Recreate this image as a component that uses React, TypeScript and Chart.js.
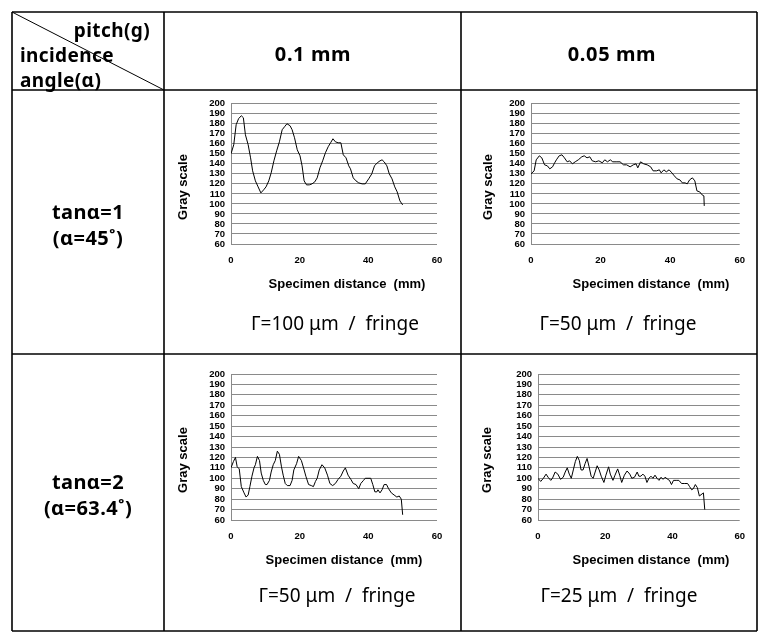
import React, { useEffect, useRef } from "react";
import { Chart, registerables } from "chart.js";
Chart.register(...registerables);

// ---------- data ----------
const xTickValues = [0, 20, 40, 60];
const yMin = 60;
const yMax = 200;
const yStep = 10;
const xTitleText = "Specimen distance  (mm)";
const yTitleText = "Gray scale";

const dist1 = [0, 0.8, 1.5, 2.2, 3.0, 3.6, 4.2, 5.0, 5.7, 6.3, 7.1, 7.9, 8.7, 9.5, 10.2, 11, 11.7, 12.5, 13.3, 14.1, 14.9, 15.6, 16.3, 17.2, 17.8, 18.5, 19.3, 20.1, 20.7, 21.3, 22, 22.8, 23.6, 24.4, 25.1, 25.9, 26.7, 27.5, 28.3, 29, 29.7, 30.4, 31.2, 32, 32.7, 33.5, 34.3, 34.8, 35.6, 36.4, 37.2, 38.2, 39.1, 40.1, 41, 41.8, 42.6, 43.4, 44, 44.6, 45.4, 46.1, 46.9, 47.7, 48.4, 49.2, 50];
const gray1 = [150, 159, 179, 185, 188, 186, 169, 159, 146, 133, 123, 117, 111, 114, 117, 123, 131, 143, 153, 162, 174, 177, 180, 178, 174, 166, 154, 148, 138, 123, 119, 119, 120, 122, 126, 136, 143, 151, 157, 161, 165, 162, 161, 161, 149, 146, 138, 135, 126, 123, 121, 120, 120, 125, 130, 138, 141, 143, 144, 142, 138, 130, 125, 117, 112, 103, 99];

const dist2 = [0, 0.9, 1.5, 2.4, 3.1, 3.9, 4.7, 5.4, 6.2, 6.8, 7.3, 8.1, 8.9, 9.6, 10.4, 11.1, 11.9, 12.7, 13.6, 14.6, 15.3, 16.1, 16.9, 17.6, 18.6, 19.5, 20.5, 21.2, 22, 22.8, 23.5, 24.7, 25.6, 26.6, 27.5, 28.5, 29.4, 30.2, 30.7, 31.5, 32.4, 33.4, 34.4, 35.1, 36.1, 36.9, 37.4, 38.2, 38.9, 39.7, 40.5, 41.2, 42, 42.8, 43.5, 44.3, 44.9, 45.6, 46.4, 47.1, 47.7, 48.5, 49.2, 49.7, 49.8];
const gray2 = [130, 133, 144, 148, 146, 139, 138, 135, 137, 141, 144, 148, 149, 146, 142, 143, 140, 142, 144, 147, 148, 146, 147, 143, 142, 143, 141, 144, 142, 144, 142, 142, 142, 139, 139, 137, 139, 140, 136, 142, 140, 139, 137, 133, 133, 134, 131, 134, 132, 134, 131, 128, 125, 124, 121, 121, 120, 124, 126, 123, 113, 112, 109, 108, 98];

const dist3 = [0, 0.7, 1.3, 1.8, 2.4, 3, 3.8, 4.4, 5, 5.5, 6.1, 6.7, 7.1, 7.7, 8.3, 8.8, 9.4, 10, 10.5, 11.2, 11.7, 12.3, 12.9, 13.5, 14.1, 14.7, 15.2, 15.8, 16.4, 17.2, 17.8, 18.3, 19.1, 19.7, 20.5, 21.3, 21.8, 22.6, 23.4, 24, 24.6, 25.1, 25.7, 26.5, 27.3, 28.1, 28.8, 29.6, 30.4, 31.2, 32, 32.7, 33.3, 34.1, 34.9, 35.6, 36.4, 37.2, 37.8, 38.6, 39.1, 39.9, 40.7, 41.3, 41.9, 42.5, 42.8, 43.4, 44, 44.6, 45.3, 45.9, 46.7, 47.5, 48.3, 49, 49.6, 50];
const gray3 = [110, 116, 120, 111, 109, 92, 86, 82, 84, 92, 102, 110, 113, 121, 117, 105, 98, 94, 94, 98, 106, 113, 117, 126, 123, 111, 103, 95, 93, 93, 98, 108, 114, 121, 117, 108, 102, 94, 93, 92, 97, 100, 108, 113, 110, 103, 95, 93, 95, 99, 102, 107, 110, 103, 99, 95, 94, 90, 95, 98, 100, 100, 100, 94, 87, 87, 89, 86, 89, 94, 94, 90, 86, 84, 82, 83, 80, 65];

const dist4 = [0, 0.8, 1.6, 2.4, 3, 3.8, 4.3, 5.1, 5.9, 6.7, 7.5, 8.1, 8.7, 9.3, 9.9, 10.5, 11.1, 11.7, 12.3, 12.8, 13.4, 14, 14.6, 15.2, 15.8, 16.4, 17, 17.6, 18.2, 18.8, 19.6, 20.2, 21, 21.5, 22.3, 22.9, 23.7, 24.3, 24.9, 25.7, 26.5, 27.3, 27.9, 28.7, 29.5, 30, 30.6, 31.2, 31.8, 32.4, 33, 33.6, 34.2, 34.8, 35.4, 36, 36.6, 37.2, 37.8, 38.6, 39.1, 39.7, 40.3, 41.1, 41.9, 42.7, 43.5, 44.5, 45.1, 45.7, 46.2, 46.8, 47.4, 48, 48.8, 49.2, 49.6];
const gray4 = [100, 97, 100, 104, 101, 98, 100, 106, 104, 99, 101, 106, 110, 104, 100, 108, 116, 121, 117, 108, 108, 114, 119, 111, 102, 100, 106, 112, 108, 102, 96, 103, 111, 104, 98, 103, 109, 103, 96, 103, 107, 104, 100, 101, 106, 102, 102, 104, 102, 96, 100, 102, 100, 103, 100, 98, 101, 99, 101, 99, 98, 94, 98, 98, 98, 95, 95, 95, 92, 89, 90, 94, 91, 83, 85, 86, 70];

// ---------- chart panel ----------
type Rect = { left: number; top: number; width: number; height: number };
type Plot = { left: number; right: number; top: number; bottom: number };
type Pt = { x: number; y: number };

const tickFont = { family: '"Liberation Sans", Arial, sans-serif', size: 9.5, weight: "bold" as const };
const gridColor = "#8a8a8a";

function GrayChart(props: { box: Rect; plot: Plot; xs: number[]; ys: number[]; yTitle: Pt; xTitle: Pt }) {
  const ref = useRef<HTMLCanvasElement | null>(null);
  const { box, plot, xs, ys, yTitle, xTitle } = props;
  useEffect(() => {
    const canvas = ref.current;
    if (!canvas) return;
    const titles = {
      id: "axisTitles",
      afterDraw(chart: any) {
        const ctx = chart.ctx as CanvasRenderingContext2D;
        ctx.save();
        ctx.fillStyle = "#000";
        ctx.font = 'bold 13px "Liberation Sans", Arial, sans-serif';
        ctx.textAlign = "center";
        ctx.textBaseline = "middle";
        ctx.fillText(xTitleText, xTitle.x - box.left, xTitle.y - box.top);
        ctx.translate(yTitle.x - box.left, yTitle.y - box.top);
        ctx.rotate(-Math.PI / 2);
        ctx.fillText(yTitleText, 0, 0);
        ctx.restore();
      },
    };
    const chart = new Chart(canvas, {
      type: "line",
      data: {
        datasets: [
          {
            data: xs.map((x, i) => ({ x, y: ys[i] })),
            borderColor: "#000",
            borderWidth: 1,
            pointRadius: 0,
            tension: 0,
            fill: false,
          },
        ],
      },
      options: {
        animation: false,
        responsive: false,
        maintainAspectRatio: false,
        layout: {
          padding: {
            left: 0,
            top: plot.top - box.top,
            right: box.left + box.width - plot.right,
            bottom: 0,
          },
        },
        plugins: { legend: { display: false }, tooltip: { enabled: false } },
        scales: {
          x: {
            type: "linear",
            min: xTickValues[0],
            max: xTickValues[xTickValues.length - 1],
            afterBuildTicks: (s: any) => {
              s.ticks = xTickValues.map((v) => ({ value: v }));
            },
            afterFit: (s: any) => {
              s.height = box.top + box.height - plot.bottom;
            },
            grid: { display: false, drawTicks: false },
            border: { display: false },
            ticks: { padding: 11, font: tickFont, color: "#000", maxRotation: 0, autoSkip: false },
          },
          y: {
            type: "linear",
            min: yMin,
            max: yMax,
            afterFit: (s: any) => {
              s.width = plot.left - box.left;
            },
            grid: { color: gridColor, lineWidth: 1, drawTicks: false },
            border: { display: true, color: gridColor, width: 1 },
            ticks: { stepSize: yStep, padding: 6, font: tickFont, color: "#000", autoSkip: false },
          },
        },
      },
      plugins: [titles],
    } as any);
    return () => chart.destroy();
  }, []);
  return (
    <canvas
      ref={ref}
      width={box.width}
      height={box.height}
      style={{ position: "absolute", left: box.left, top: box.top, width: box.width, height: box.height }}
    />
  );
}

// ---------- text helper ----------
const cellFont = '"Noto Sans", "Open Sans", sans-serif';
function Label(props: { x: number; y: number; text: string; size: number; bold?: boolean; spacing?: number; anchor?: "left" | "center" | "right" }) {
  const { x, y, text, size, bold, spacing = 0, anchor = "center" } = props;
  const tx = anchor === "center" ? "-50%" : anchor === "right" ? "-100%" : "0";
  return (
    <div
      style={{
        position: "absolute",
        left: x,
        top: y,
        transform: `translate(${tx}, -50%)`,
        whiteSpace: "pre",
        fontFamily: cellFont,
        fontSize: size,
        fontWeight: bold ? 700 : 400,
        letterSpacing: spacing,
        lineHeight: 1,
        color: "#000",
      }}
    >
      {text}
    </div>
  );
}

const colX = [12, 164, 461, 757];
const rowY = [12, 90, 354, 631];

export default function App() {
  return (
    <div style={{ position: "absolute", left: 0, top: 0, width: 768, height: 642, background: "#fff", overflow: "hidden" }}>
      <GrayChart box={{ left: 168, top: 92, width: 290, height: 206 }} plot={{ left: 231, right: 437, top: 102, bottom: 244 }} xs={dist1} ys={gray1} yTitle={{ x: 183, y: 187 }} xTitle={{ x: 347, y: 284 }} />
      <GrayChart box={{ left: 468, top: 92, width: 288, height: 206 }} plot={{ left: 531, right: 741, top: 102, bottom: 244 }} xs={dist2} ys={gray2} yTitle={{ x: 488, y: 187 }} xTitle={{ x: 651, y: 284 }} />
      <GrayChart box={{ left: 168, top: 362, width: 290, height: 210 }} plot={{ left: 231, right: 437, top: 374, bottom: 520 }} xs={dist3} ys={gray3} yTitle={{ x: 183, y: 460 }} xTitle={{ x: 344, y: 560 }} />
      <GrayChart box={{ left: 468, top: 362, width: 288, height: 210 }} plot={{ left: 538, right: 741, top: 374, bottom: 520 }} xs={dist4} ys={gray4} yTitle={{ x: 487, y: 460 }} xTitle={{ x: 651, y: 560 }} />

      <svg width={768} height={642} style={{ position: "absolute", left: 0, top: 0 }}>
        {rowY.map((y) => (
          <line key={"h" + y} x1={colX[0]} y1={y} x2={colX[3]} y2={y} stroke="#000" strokeWidth={1.6} />
        ))}
        {colX.map((x) => (
          <line key={"v" + x} x1={x} y1={rowY[0]} x2={x} y2={rowY[3]} stroke="#000" strokeWidth={1.6} />
        ))}
        <line x1={colX[0]} y1={rowY[0]} x2={colX[1]} y2={rowY[1]} stroke="#000" strokeWidth={1} />
      </svg>

      <Label x={150} y={30} text="pitch(g)" size={19} bold spacing={0.4} anchor="right" />
      <Label x={20} y={55} text="incidence" size={19} bold spacing={0.4} anchor="left" />
      <Label x={20} y={80} text="angle(α)" size={19} bold spacing={0.4} anchor="left" />
      <Label x={313} y={54} text="0.1 mm" size={20} bold spacing={0.6} />
      <Label x={612} y={54} text="0.05 mm" size={20} bold spacing={0.6} />

      <Label x={88} y={212} text="tanα=1" size={20} bold spacing={0.4} />
      <Label x={88} y={238} text="(α=45˚)" size={20} bold spacing={0.4} />
      <Label x={88} y={482} text="tanα=2" size={20} bold spacing={0.4} />
      <Label x={88} y={508} text="(α=63.4˚)" size={20} bold spacing={0.4} />

      <Label x={335} y={323} text="Γ=100 μm  /  fringe" size={19} />
      <Label x={618} y={323} text="Γ=50 μm  /  fringe" size={19} />
      <Label x={337} y={595} text="Γ=50 μm  /  fringe" size={19} />
      <Label x={619} y={595} text="Γ=25 μm  /  fringe" size={19} />
    </div>
  );
}
